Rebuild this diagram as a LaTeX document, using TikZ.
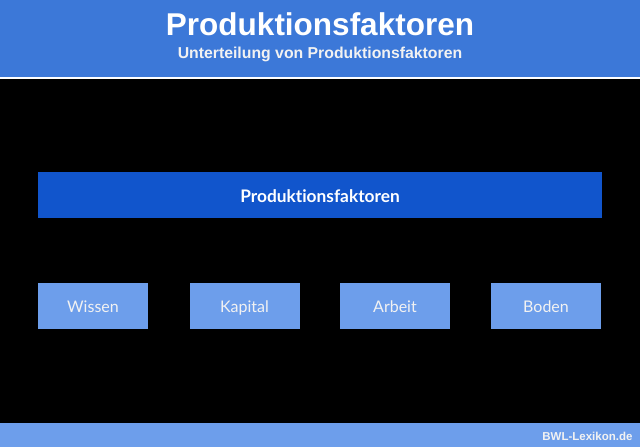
\documentclass[tikz,border=0pt]{standalone}
\usepackage{fontspec}
\setmainfont{Liberation Sans}
\newfontfamily\boxfont[Ligatures={NoCommon,NoRare,NoContextual}]{Lato}
\definecolor{banner}{HTML}{3C78D8}
\definecolor{darkbox}{HTML}{1155CC}
\definecolor{lightbox}{HTML}{6D9EEB}
\tikzset{
  px/.style={x=1pt,y=-1pt},
  bigbox/.style={fill=darkbox,draw=none,minimum width=564pt,minimum height=46pt,inner sep=0pt,text=white,text height=16pt,text depth=2pt,font=\boxfont\bfseries\fontsize{17.3}{19}\selectfont},
  smallbox/.style={fill=lightbox,draw=none,minimum width=110pt,minimum height=46pt,inner sep=0pt,text=white!95!black,text height=14pt,text depth=2pt,font=\boxfont\fontsize{16}{18}\selectfont},
}
\begin{document}
\begin{tikzpicture}[px]
\useasboundingbox (0,0) rectangle (640,447);
\fill[black] (0,0) rectangle (640,447);
\fill[banner] (0,0) rectangle (640,77);
\fill[white] (0,77) rectangle (640,78.5);
\fill[lightbox] (0,423) rectangle (640,447);
\node[text=white,font=\bfseries\fontsize{31.5}{33}\selectfont] (title) at (320,24) {Produktionsfaktoren};
\node[text=white!95!black,font=\bfseries\fontsize{15.8}{17}\selectfont] (sub) at (320,54.5) {Unterteilung von Produktionsfaktoren};
\node[bigbox] (main) at (320,195) {Produktionsfaktoren};
\node[smallbox] (wissen) at (93,306) {Wissen};
\node[smallbox] (kapital) at (244.5,306) {Kapital};
\node[smallbox] (arbeit) at (395,306) {Arbeit};
\node[smallbox] (boden) at (546,306) {Boden};
\node[anchor=east,text=white!95!black,font=\bfseries\fontsize{11.5}{13}\selectfont] (brand) at (636,436) {BWL-Lexikon.de};
\end{tikzpicture}
\end{document}
